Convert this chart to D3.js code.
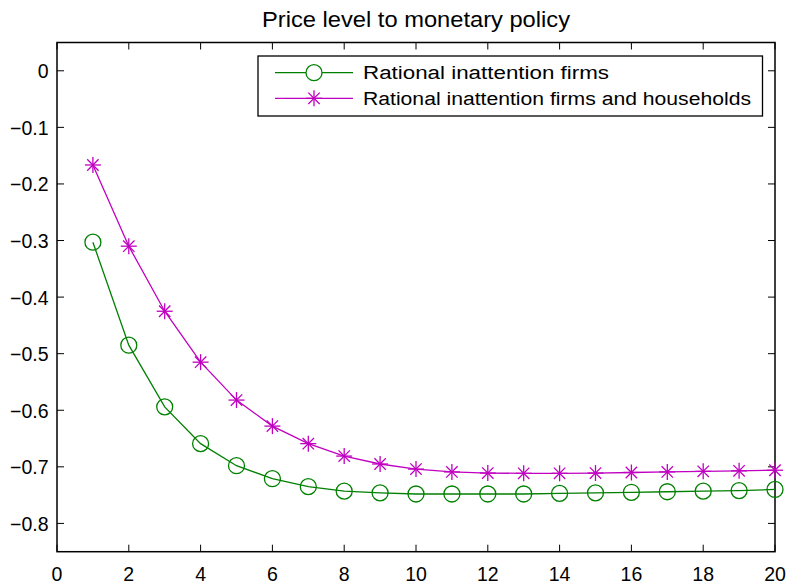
<!DOCTYPE html>
<html><head><meta charset="utf-8">
<script src="https://cdn.jsdelivr.net/npm/d3@7"></script>
<style>body{margin:0;background:#fff}svg{display:block}text{font-family:"Liberation Sans",Arial,sans-serif;fill:#000}</style>
</head><body><svg id="c" width="791" height="587"></svg>
<script>
const periods = d3.range(1, 21);
const firmsOnly = [-0.303,-0.485,-0.594,-0.659,-0.698,-0.721,-0.735,-0.743,-0.746,-0.748,-0.748,-0.748,-0.748,-0.747,-0.746,-0.745,-0.744,-0.743,-0.742,-0.740];
const firmsHouseholds = [-0.1665,-0.310,-0.425,-0.515,-0.582,-0.628,-0.659,-0.681,-0.695,-0.704,-0.709,-0.711,-0.7115,-0.7115,-0.711,-0.710,-0.709,-0.708,-0.707,-0.706];
const xTicks = [0,2,4,6,8,10,12,14,16,18,20];
const yTicks = [0,-0.1,-0.2,-0.3,-0.4,-0.5,-0.6,-0.7,-0.8];
const seriesNames = ["Rational inattention firms","Rational inattention firms and households"];
const title = "Price level to monetary policy";

const svg = d3.select("#c");
const L=57, R=775, T=42.5, B=551.7;
const x = d3.scaleLinear().domain([0,20]).range([L,R]);
const y = d3.scaleLinear().domain([-0.85,0.05]).range([B,T]);
const green="#008000", mag="#c000c0";

const tl=7;
const g = svg.append("g");
xTicks.forEach(v=>{
  g.append("line").attr("x1",x(v)).attr("x2",x(v)).attr("y1",B).attr("y2",B-tl).attr("stroke","#000");
  g.append("line").attr("x1",x(v)).attr("x2",x(v)).attr("y1",T).attr("y2",T+tl).attr("stroke","#000");
  g.append("text").attr("x",x(v)).attr("y",581).attr("text-anchor","middle").attr("font-size",19.5).text(d3.format("d")(v));
});
yTicks.forEach(v=>{
  g.append("line").attr("x1",L).attr("x2",L+tl).attr("y1",y(v)).attr("y2",y(v)).attr("stroke","#000");
  g.append("line").attr("x1",R).attr("x2",R-tl).attr("y1",y(v)).attr("y2",y(v)).attr("stroke","#000");
  g.append("text").attr("x",48.5).attr("y",y(v)+7.5).attr("text-anchor","end").attr("font-size",19.5).text(v===0?"0":d3.format(".1f")(v));
});
svg.append("rect").attr("x",L).attr("y",T).attr("width",R-L).attr("height",B-T).attr("fill","none").attr("stroke","#000").attr("stroke-width",1.5);

svg.append("text").attr("x",262).attr("y",26.5).attr("font-size",22.5)
  .attr("textLength",308).attr("lengthAdjust","spacingAndGlyphs").text(title);

const line = d3.line().x((d,i)=>x(periods[i])).y(d=>y(d));
function circ(sel,cx,cy,fill){sel.append("circle").attr("cx",cx).attr("cy",cy).attr("r",8).attr("fill",fill||"none").attr("stroke",green).attr("stroke-width",1.3);}
function star(sel,cx,cy){
  const s=8, d=5.7;
  const p=sel.append("g").attr("stroke",mag).attr("stroke-width",1.3);
  p.append("line").attr("x1",cx-s).attr("x2",cx+s).attr("y1",cy).attr("y2",cy);
  p.append("line").attr("x1",cx).attr("x2",cx).attr("y1",cy-s).attr("y2",cy+s);
  p.append("line").attr("x1",cx-d).attr("x2",cx+d).attr("y1",cy-d).attr("y2",cy+d);
  p.append("line").attr("x1",cx-d).attr("x2",cx+d).attr("y1",cy+d).attr("y2",cy-d);
}
svg.append("path").attr("d",line(firmsOnly)).attr("fill","none").attr("stroke",green).attr("stroke-width",1.3);
firmsOnly.forEach((v,i)=>circ(svg,x(periods[i]),y(v)));
svg.append("path").attr("d",line(firmsHouseholds)).attr("fill","none").attr("stroke",mag).attr("stroke-width",1.3);
firmsHouseholds.forEach((v,i)=>star(svg,x(periods[i]),y(v)));

// legend
const lg = svg.append("g");
lg.append("rect").attr("x",258).attr("y",56).attr("width",504.5).attr("height",60).attr("fill","#fff").attr("stroke","#000").attr("stroke-width",1.3);
const rows=[72.7,98.3];
const textW=[246,388];
[green,mag].forEach((c,i)=>{
  lg.append("line").attr("x1",275).attr("x2",353).attr("y1",rows[i]).attr("y2",rows[i]).attr("stroke",c).attr("stroke-width",1.3);
  if(i===0) circ(lg,314,rows[i],"#fff"); else star(lg,314,rows[i]);
  lg.append("text").attr("x",363).attr("y",rows[i]+6.5).attr("font-size",18)
    .attr("textLength",textW[i]).attr("lengthAdjust","spacingAndGlyphs").text(seriesNames[i]);
});
</script></body></html>
